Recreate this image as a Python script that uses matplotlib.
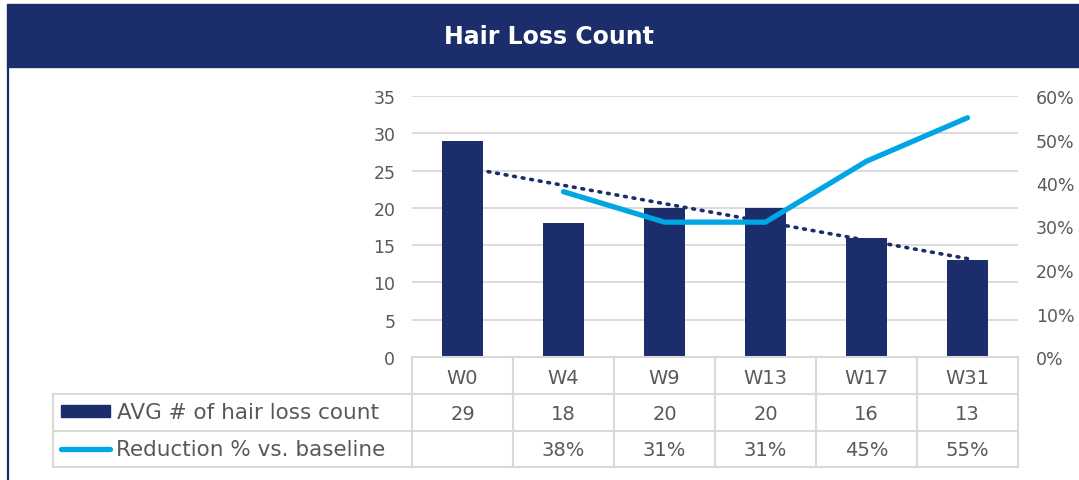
import numpy as np
import matplotlib
matplotlib.use("Agg")
import matplotlib.pyplot as plt
from matplotlib.patches import Rectangle
from matplotlib.lines import Line2D
from matplotlib.transforms import blended_transform_factory

# Datos
semanas = ["W0", "W4", "W9", "W13", "W17", "W31"]
conteo = [29, 18, 20, 20, 16, 13]
reduccion = [None, 0.38, 0.31, 0.31, 0.45, 0.55]
serie_barras = "AVG # of hair loss count"
serie_linea = "Reduction % vs. baseline"
titulo = "Hair Loss Count"

azul_oscuro = "#1C2D6B"
celeste = "#00A5E3"
gris_texto = "#595959"
gris_linea = "#D9D9D9"

plt.rcParams['font.family'] = ['DejaVu Sans']

W, H = 1079, 481
fig = plt.figure(figsize=(W / 100, H / 100), dpi=100)

def fx(px):
    return px / W

def fy(py):
    return 1 - py / H

# Cabecera con titulo
fig.patches.append(Rectangle((fx(7), fy(68)), fx(1079) - fx(7), fy(5) - fy(68),
                             transform=fig.transFigure, color=azul_oscuro, zorder=0))
fig.text(fx(549), fy(37), titulo, color="white", fontsize=17, fontweight="bold",
         ha="center", va="center")
fig.lines.append(Line2D([fx(8), fx(8)], [fy(68), 0], transform=fig.transFigure,
                        color=azul_oscuro, lw=1.6))

# Grafico principal
ax = fig.add_axes([fx(412), fy(358), fx(1018) - fx(412), fy(97) - fy(358)])
x = np.arange(len(semanas))
ax.bar(x, conteo, width=0.4, color=azul_oscuro, zorder=2)

# Linea de tendencia (lineal, como en Excel)
coef = np.polyfit(x, conteo, 1)
ax.plot(x, np.polyval(coef, x), linestyle=(0, (0.5, 1.9)), color=azul_oscuro,
        lw=2.6, dash_capstyle="round", zorder=3)

ax.set_xlim(-0.5, len(semanas) - 0.5)
ax.set_ylim(0, 35)
ax.set_yticks(range(0, 36, 5))
ax.set_xticks([])
ax.grid(axis="y", color=gris_linea, lw=1.3, zorder=0)
ax.tick_params(axis="y", length=0, pad=12, labelsize=12.5, labelcolor=gris_texto)
for s in ["top", "left", "right"]:
    ax.spines[s].set_visible(False)
ax.spines["bottom"].set_color(gris_linea)
ax.spines["bottom"].set_linewidth(1.5)

ax2 = ax.twinx()
red_x = [i for i, v in enumerate(reduccion) if v is not None]
red_y = [v for v in reduccion if v is not None]
ax2.plot(red_x, red_y, color=celeste, lw=3.8, solid_capstyle="round",
         solid_joinstyle="round", zorder=4)
ax2.set_ylim(0, 0.6)
ax2.set_yticks(np.arange(0, 0.61, 0.1))
ax2.set_yticklabels([f"{int(round(v * 100))}%" for v in np.arange(0, 0.61, 0.1)])
ax2.tick_params(axis="y", length=0, pad=13, labelsize=12.5, labelcolor=gris_texto)
for s in ax2.spines.values():
    s.set_visible(False)

# Tabla de datos
tr = blended_transform_factory(ax.transData, fig.transFigure)
filas = [358, 395, 432, 468]
for i in range(len(semanas) + 1):
    fig.lines.append(Line2D([i - 0.5, i - 0.5], [fy(filas[0]), fy(filas[-1])],
                            transform=tr, color=gris_linea, lw=1.5))
for py in filas[1:]:
    fig.lines.append(Line2D([fx(53), fx(1018)], [fy(py), fy(py)],
                            transform=fig.transFigure, color=gris_linea, lw=1.5))
fig.lines.append(Line2D([fx(53), fx(53)], [fy(395), fy(468)],
                        transform=fig.transFigure, color=gris_linea, lw=1.5))

for i, s in enumerate(semanas):
    fig.text(i, fy(378), s, transform=tr, ha="center", va="center",
             fontsize=14, color=gris_texto)
    fig.text(i, fy(414), str(conteo[i]), transform=tr, ha="center", va="center",
             fontsize=14, color=gris_texto)
    if reduccion[i] is not None:
        fig.text(i, fy(451), f"{int(round(reduccion[i] * 100))}%", transform=tr,
                 ha="center", va="center", fontsize=14, color=gris_texto)

# Leyenda dentro de la tabla
fig.patches.append(Rectangle((fx(61), fy(418)), fx(110) - fx(61), fy(406) - fy(418),
                             transform=fig.transFigure, color=azul_oscuro))
fig.lines.append(Line2D([fx(61), fx(110)], [fy(450), fy(450)], transform=fig.transFigure,
                        color=celeste, lw=3.8, solid_capstyle="round"))
fig.text(fx(117), fy(413), serie_barras, ha="left", va="center", fontsize=15.5,
         color=gris_texto)
fig.text(fx(116), fy(450), serie_linea, ha="left", va="center", fontsize=15.5,
         color=gris_texto)

fig.savefig("out.png", dpi=100)
